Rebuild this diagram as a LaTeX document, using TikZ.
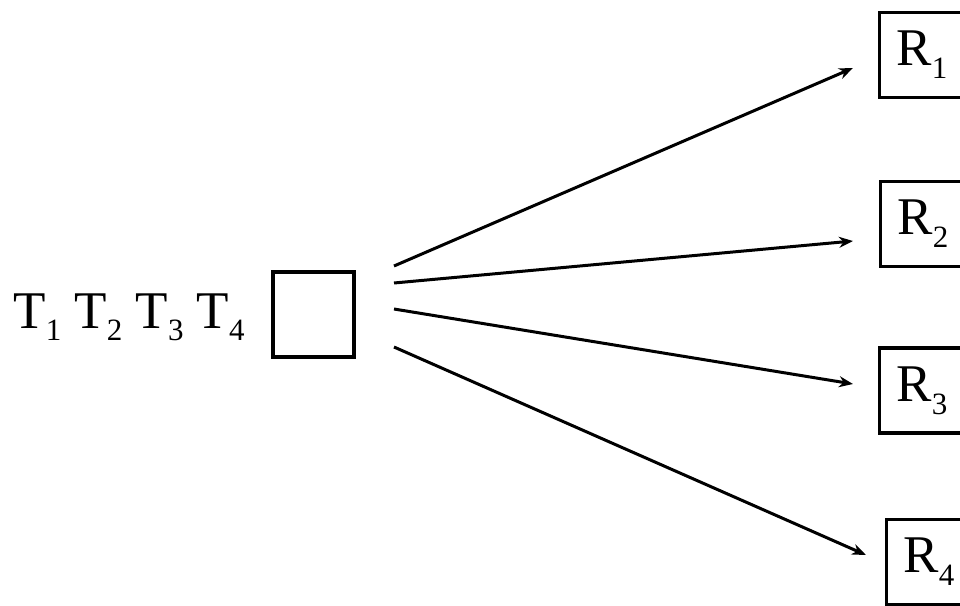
\documentclass[tikz,border=0pt]{standalone}
\usepackage{fontspec}
\setmainfont{Liberation Serif}
\usetikzlibrary{arrows.meta}
\newcommand{\mysub}[1]{\raisebox{-0.24em}{\fontsize{15.5}{15.5}\selectfont #1}}
\tikzset{
  box/.style={draw, line width=1.6pt, minimum width=40.5pt, minimum height=42.5pt, inner sep=0pt},
  rbox/.style={draw, line width=1.6pt, minimum width=42.5pt, minimum height=42.5pt, inner sep=0pt, font=\fontsize{26.5}{30}\selectfont},
  arr/.style={line width=1.5pt, -{Stealth[length=7pt,width=5.5pt]}},
  lbl/.style={inner sep=0pt, font=\fontsize{26.5}{30}\selectfont}
}
\begin{document}
\begin{tikzpicture}[x=0.5pt,y=-0.5pt]
\useasboundingbox (0,0) rectangle (960,606);
\node[lbl, anchor=base west] (T) at (13,328) {T\mysub{1} T\mysub{2} T\mysub{3} T\mysub{4}};
\node[box] (C) at (313.5,314.5) {};
\node[rbox] (R1) at (922,55) {R\mysub{1}};
\node[rbox] (R2) at (923,224) {R\mysub{2}};
\node[rbox] (R3) at (922,390.5) {R\mysub{3}};
\node[rbox] (R4) at (929,562) {R\mysub{4}};
\coordinate (s1) at (394,266);
\coordinate (s2) at (394,283);
\coordinate (s3) at (394,309);
\coordinate (s4) at (394,347);
\coordinate (e1) at (853,68);
\coordinate (e2) at (853,241);
\coordinate (e3) at (853,384);
\coordinate (e4) at (866,555);
\draw[arr] (s1) -- (e1);
\draw[arr] (s2) -- (e2);
\draw[arr] (s3) -- (e3);
\draw[arr] (s4) -- (e4);
\end{tikzpicture}
\end{document}
